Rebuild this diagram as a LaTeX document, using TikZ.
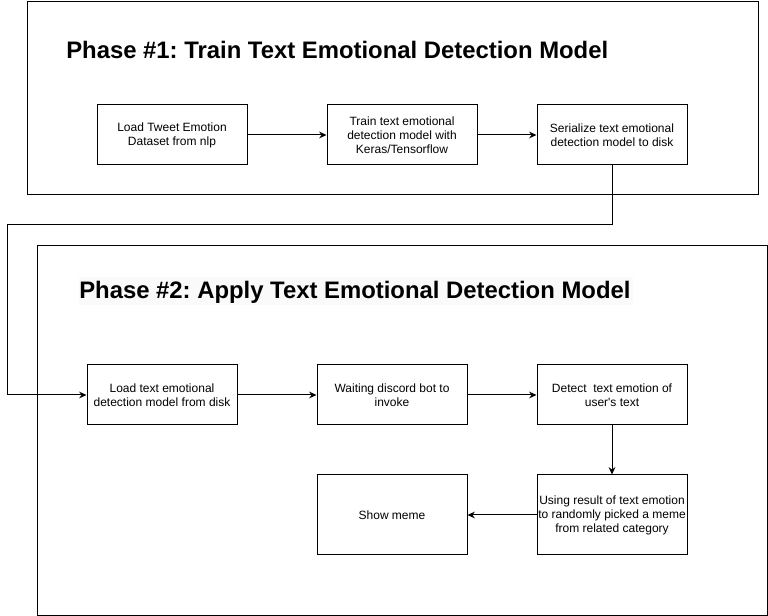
\documentclass[tikz,border=0pt]{standalone}
\usepackage{fontspec}
\setmainfont{Liberation Sans}
\usetikzlibrary{arrows.meta}
\frenchspacing
\begin{document}
\begin{tikzpicture}[x=0.75pt,y=-0.75pt,
  frame/.style={draw=black,line width=0.75pt},
  stepbox/.style={draw=black,line width=0.75pt,minimum width=112.5pt,align=center,
    font=\fontsize{9pt}{10.5pt}\selectfont,inner sep=0pt},
  conn/.style={line width=0.75pt,-{Stealth[length=5.5pt,width=5pt]}},
  title/.style={anchor=base west,inner sep=0pt,font=\fontsize{17.9pt}{21pt}\selectfont\bfseries}]
\useasboundingbox (0,0) rectangle (768,616);
\fill[white] (0,0) rectangle (768,616);
% phase frames
\node[frame,minimum width=548.25pt,minimum height=144.75pt,anchor=north west,inner sep=0pt] (p1) at (27,1) {};
\node[frame,minimum width=547.5pt,minimum height=277.5pt,anchor=north west,inner sep=0pt] (p2) at (37,245) {};
% titles
\fill[black!2] (79,277) rectangle (633,305);
\node[title] (t1) at (66,59) {Phase \#1: Train Text Emotional Detection Model};
\node[title] (t2) at (79,299) {Phase \#2: Apply Text Emotional Detection Model};
% row 1
\node[stepbox,minimum height=45pt] (a) at (172,135) {Load Tweet Emotion\\Dataset from nlp};
\node[stepbox,minimum height=45pt] (b) at (402,135) {Train text emotional\\detection model with\\Keras/Tensorflow};
\node[stepbox,minimum height=45pt] (c) at (612,135) {Serialize text emotional\\detection model to disk};
% row 2
\node[stepbox,minimum height=45pt] (d) at (162,395) {Load text emotional\\detection model from disk};
\node[stepbox,minimum height=45pt] (e) at (392,395) {Waiting discord bot to\\invoke};
\node[stepbox,minimum height=45pt] (f) at (612,395) {Detect\ \ text emotion of\\user\textquotesingle s text};
% row 3
\node[stepbox,minimum height=60pt] (g) at (392,515) {Show meme};
\node[stepbox,minimum height=60pt] (h) at (612,515) {Using result of text emotion\\to randomly picked a meme\\from related category};
\coordinate (k1) at (612,225);
\coordinate (k2) at (7,225);
\coordinate (k3) at (7,395);
% connectors
\draw[conn] (a) -- (b);
\draw[conn] (b) -- (c);
\draw[conn] (c.south) -- (k1) -- (k2) -- (k3) -- (d.west);
\draw[conn] (d) -- (e);
\draw[conn] (e) -- (f);
\draw[conn] (f) -- (h);
\draw[conn] (h) -- (g);
\end{tikzpicture}
\end{document}
